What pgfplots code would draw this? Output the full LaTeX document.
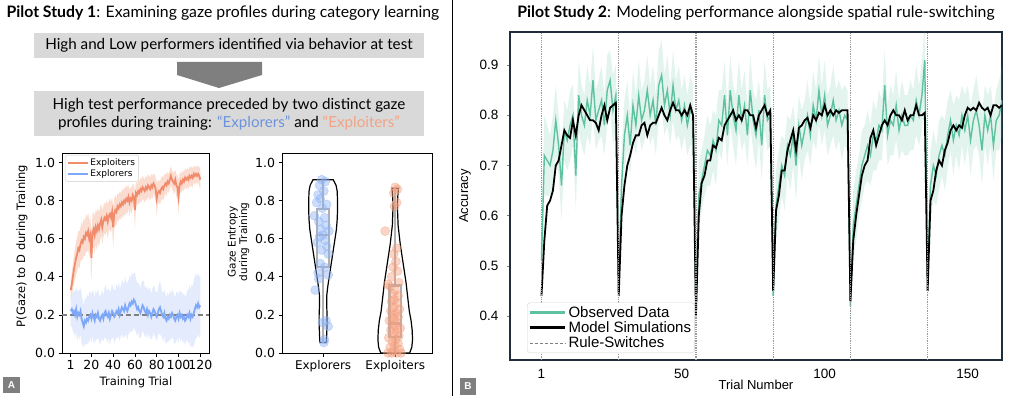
\documentclass[border=0pt]{standalone}
\usepackage{pgfplots}
\pgfplotsset{compat=1.18}
\usepackage{pgfplotstable}
\usepgfplotslibrary{fillbetween,statistics}
\usepackage{fontspec}
\setmainfont{Lato}
\newfontfamily\lato{Lato}
\newfontfamily\dejavu{DejaVu Sans}
\newfontfamily\arial{Liberation Sans}

\definecolor{salmon}{HTML}{F28B6C}
\definecolor{salmonfill}{HTML}{FAD3C4}
\definecolor{expblue}{HTML}{7FA8F8}
\definecolor{expbluefill}{HTML}{DCE6FB}
\definecolor{txtblue}{HTML}{6E93DC}
\definecolor{txtsalmon}{HTML}{F2A384}
\definecolor{boxgray}{HTML}{D9D9D9}
\definecolor{arrowgray}{HTML}{7F7F7F}
\definecolor{obsgreen}{HTML}{5EC29E}
\definecolor{bframe}{HTML}{1F2E3A}
\definecolor{ptblue}{HTML}{8FB3F5}
\definecolor{ptsalmon}{HTML}{F4A080}
\definecolor{bpgray}{HTML}{A6A6A6}

\pgfkeys{/pgf/number format/onedec/.style={/pgf/number format/fixed,/pgf/number format/fixed zerofill,/pgf/number format/precision=1}}

% Panel A: P(gaze) per training trial: t, exploiters mean/err, explorers mean/err
\pgfplotstableread{
t a ae b be
1 0.33 0.05 0.22 0.08
2 0.36 0.06 0.23 0.09
3 0.40 0.07 0.21 0.10
4 0.44 0.08 0.22 0.11
5 0.47 0.08 0.20 0.12
6 0.50 0.09 0.23 0.12
7 0.52 0.09 0.19 0.13
8 0.55 0.09 0.21 0.12
9 0.54 0.10 0.20 0.13
10 0.57 0.09 0.22 0.12
11 0.59 0.10 0.18 0.13
12 0.58 0.09 0.16 0.12
13 0.61 0.10 0.14 0.11
14 0.60 0.09 0.17 0.12
15 0.63 0.10 0.16 0.12
16 0.62 0.09 0.18 0.13
17 0.64 0.10 0.17 0.12
18 0.60 0.09 0.19 0.13
19 0.62 0.10 0.20 0.12
20 0.50 0.12 0.18 0.13
21 0.63 0.10 0.21 0.12
22 0.65 0.09 0.19 0.13
23 0.62 0.10 0.17 0.12
24 0.66 0.09 0.20 0.13
25 0.64 0.10 0.19 0.12
26 0.67 0.09 0.21 0.13
27 0.65 0.09 0.18 0.12
28 0.68 0.09 0.17 0.13
29 0.70 0.08 0.19 0.12
30 0.66 0.09 0.20 0.13
31 0.69 0.08 0.18 0.12
32 0.71 0.08 0.21 0.13
33 0.70 0.08 0.22 0.14
34 0.72 0.08 0.20 0.13
35 0.69 0.09 0.19 0.14
36 0.72 0.08 0.21 0.13
37 0.73 0.08 0.18 0.14
38 0.71 0.08 0.20 0.13
39 0.74 0.08 0.22 0.14
40 0.66 0.11 0.21 0.13
41 0.73 0.08 0.19 0.14
42 0.75 0.08 0.20 0.13
43 0.74 0.07 0.22 0.14
44 0.77 0.07 0.21 0.13
45 0.76 0.07 0.23 0.14
46 0.78 0.07 0.20 0.14
47 0.77 0.07 0.22 0.13
48 0.79 0.07 0.24 0.14
49 0.78 0.07 0.23 0.15
50 0.80 0.07 0.22 0.14
51 0.79 0.07 0.25 0.15
52 0.81 0.07 0.23 0.14
53 0.80 0.07 0.22 0.15
54 0.82 0.06 0.24 0.14
55 0.79 0.07 0.26 0.15
56 0.81 0.06 0.25 0.14
57 0.80 0.07 0.27 0.15
58 0.83 0.06 0.26 0.15
59 0.82 0.06 0.28 0.14
60 0.75 0.10 0.27 0.15
61 0.84 0.06 0.25 0.14
62 0.83 0.06 0.23 0.14
63 0.85 0.06 0.24 0.13
64 0.84 0.06 0.22 0.14
65 0.86 0.06 0.21 0.13
66 0.85 0.06 0.23 0.14
67 0.87 0.06 0.25 0.13
68 0.86 0.06 0.24 0.14
69 0.85 0.06 0.22 0.13
70 0.87 0.06 0.21 0.13
71 0.86 0.06 0.23 0.12
72 0.88 0.06 0.20 0.13
73 0.87 0.06 0.22 0.12
74 0.86 0.06 0.21 0.13
75 0.88 0.06 0.19 0.12
76 0.87 0.06 0.21 0.13
77 0.89 0.05 0.23 0.12
78 0.88 0.06 0.22 0.13
79 0.86 0.06 0.20 0.12
80 0.81 0.09 0.19 0.13
81 0.84 0.06 0.21 0.12
82 0.85 0.06 0.23 0.13
83 0.84 0.06 0.24 0.14
84 0.86 0.06 0.22 0.13
85 0.87 0.06 0.20 0.12
86 0.86 0.06 0.19 0.13
87 0.88 0.06 0.21 0.12
88 0.89 0.05 0.18 0.13
89 0.88 0.06 0.17 0.12
90 0.90 0.05 0.19 0.13
91 0.89 0.05 0.18 0.12
92 0.91 0.05 0.20 0.13
93 0.93 0.05 0.19 0.12
94 0.91 0.05 0.21 0.13
95 0.90 0.05 0.20 0.12
96 0.89 0.06 0.18 0.13
97 0.91 0.05 0.17 0.12
98 0.88 0.06 0.19 0.13
99 0.87 0.06 0.20 0.12
100 0.82 0.09 0.18 0.13
101 0.88 0.06 0.21 0.12
102 0.90 0.05 0.19 0.13
103 0.89 0.05 0.20 0.12
104 0.91 0.05 0.18 0.13
105 0.90 0.05 0.19 0.12
106 0.92 0.05 0.17 0.13
107 0.91 0.05 0.18 0.12
108 0.92 0.05 0.20 0.13
109 0.91 0.05 0.19 0.14
110 0.93 0.05 0.21 0.15
111 0.92 0.05 0.18 0.15
112 0.93 0.05 0.20 0.16
113 0.92 0.05 0.19 0.16
114 0.94 0.04 0.21 0.17
115 0.93 0.05 0.23 0.17
116 0.94 0.04 0.25 0.17
117 0.93 0.05 0.24 0.16
118 0.94 0.04 0.26 0.16
119 0.93 0.05 0.24 0.16
120 0.91 0.05 0.25 0.16
}\tabA

% Panel B: t, model simulation, observed mean, observed err
\pgfplotstableread{
t m o e
1 0.44 0.51 0.07
2 0.55 0.72 0.08
3 0.62 0.71 0.07
4 0.63 0.70 0.06
5 0.65 0.73 0.07
6 0.70 0.79 0.07
7 0.71 0.74 0.06
8 0.74 0.66 0.07
9 0.77 0.77 0.06
10 0.76 0.75 0.06
11 0.755 0.78 0.07
12 0.79 0.80 0.06
13 0.76 0.68 0.07
14 0.80 0.84 0.07
15 0.82 0.80 0.06
16 0.81 0.78 0.06
17 0.80 0.83 0.07
18 0.79 0.80 0.06
19 0.79 0.87 0.07
20 0.785 0.79 0.06
21 0.77 0.81 0.06
22 0.80 0.83 0.07
23 0.82 0.78 0.06
24 0.79 0.85 0.07
25 0.815 0.87 0.06
26 0.82 0.81 0.07
27 0.825 0.84 0.06
28 0.44 0.47 0.07
29 0.60 0.66 0.07
30 0.66 0.76 0.07
31 0.70 0.80 0.07
32 0.72 0.74 0.06
33 0.745 0.82 0.07
34 0.76 0.78 0.06
35 0.76 0.84 0.07
36 0.78 0.79 0.06
37 0.785 0.81 0.06
38 0.76 0.85 0.07
39 0.78 0.80 0.06
40 0.785 0.83 0.07
41 0.785 0.78 0.06
42 0.80 0.86 0.07
43 0.815 0.88 0.07
44 0.80 0.82 0.06
45 0.79 0.85 0.07
46 0.81 0.80 0.06
47 0.825 0.86 0.07
48 0.81 0.81 0.06
49 0.81 0.83 0.07
50 0.80 0.79 0.06
51 0.81 0.82 0.06
52 0.80 0.78 0.06
53 0.82 0.81 0.07
54 0.80 0.80 0.06
55 0.40 0.42 0.06
56 0.60 0.64 0.07
57 0.665 0.67 0.06
58 0.68 0.70 0.06
59 0.71 0.73 0.07
60 0.71 0.72 0.06
61 0.74 0.75 0.06
62 0.735 0.73 0.07
63 0.755 0.79 0.06
64 0.75 0.78 0.07
65 0.78 0.84 0.07
66 0.79 0.76 0.06
67 0.80 0.85 0.07
68 0.81 0.80 0.06
69 0.79 0.77 0.07
70 0.80 0.84 0.07
71 0.79 0.79 0.06
72 0.81 0.82 0.07
73 0.81 0.76 0.06
74 0.80 0.85 0.07
75 0.80 0.79 0.06
76 0.775 0.76 0.07
77 0.80 0.81 0.06
78 0.81 0.74 0.07
79 0.82 0.84 0.07
80 0.80 0.79 0.06
81 0.81 0.80 0.06
82 0.45 0.44 0.06
83 0.61 0.62 0.07
84 0.64 0.66 0.07
85 0.69 0.70 0.06
86 0.69 0.68 0.07
87 0.73 0.74 0.06
88 0.75 0.72 0.07
89 0.77 0.76 0.06
90 0.73 0.70 0.07
91 0.775 0.78 0.06
92 0.78 0.74 0.07
93 0.79 0.77 0.06
94 0.795 0.80 0.07
95 0.775 0.76 0.06
96 0.80 0.82 0.07
97 0.79 0.79 0.06
98 0.805 0.85 0.07
99 0.80 0.80 0.06
100 0.82 0.84 0.07
101 0.80 0.78 0.06
102 0.81 0.80 0.06
103 0.80 0.83 0.07
104 0.81 0.79 0.06
105 0.805 0.81 0.06
106 0.81 0.78 0.07
107 0.81 0.80 0.06
108 0.81 0.79 0.06
109 0.43 0.42 0.06
110 0.55 0.58 0.07
111 0.60 0.62 0.07
112 0.64 0.66 0.06
113 0.68 0.70 0.07
114 0.70 0.72 0.06
115 0.71 0.74 0.07
116 0.755 0.72 0.06
117 0.77 0.76 0.07
118 0.74 0.75 0.06
119 0.76 0.78 0.07
120 0.78 0.77 0.06
121 0.79 0.86 0.07
122 0.78 0.76 0.06
123 0.80 0.79 0.07
124 0.81 0.78 0.06
125 0.80 0.82 0.07
126 0.80 0.77 0.06
127 0.79 0.80 0.07
128 0.81 0.78 0.06
129 0.79 0.78 0.06
130 0.80 0.80 0.07
131 0.80 0.79 0.06
132 0.82 0.83 0.07
133 0.80 0.80 0.06
134 0.80 0.84 0.07
135 0.805 0.91 0.07
136 0.45 0.47 0.06
137 0.63 0.66 0.07
138 0.65 0.70 0.07
139 0.69 0.68 0.06
140 0.71 0.72 0.07
141 0.70 0.74 0.06
142 0.73 0.72 0.07
143 0.745 0.76 0.07
144 0.77 0.79 0.06
145 0.78 0.75 0.07
146 0.77 0.78 0.06
147 0.78 0.76 0.07
148 0.775 0.80 0.06
149 0.80 0.77 0.07
150 0.815 0.80 0.06
151 0.81 0.75 0.07
152 0.815 0.79 0.06
153 0.81 0.81 0.07
154 0.825 0.78 0.06
155 0.815 0.73 0.07
156 0.81 0.80 0.06
157 0.815 0.77 0.07
158 0.80 0.80 0.06
159 0.82 0.74 0.07
160 0.82 0.79 0.06
161 0.815 0.80 0.07
162 0.82 0.83 0.07
}\tabB

\begin{document}
\begin{tikzpicture}

% ---------- Left header ----------
\node[font=\lato\fontsize{15.8bp}{18bp}\selectfont] at (223bp,383bp)
  {\textbf{Pilot Study 1}: Examining gaze profiles during category learning};
\fill[boxgray] (34bp,338bp) rectangle (424bp,363bp);
\node[font=\lato\fontsize{15.2bp}{18bp}\selectfont] at (229bp,350.5bp)
  {High and Low performers identified via behavior at test};
\fill[arrowgray] (177bp,334bp) -- (262bp,334bp) -- (262bp,321bp) -- (219bp,308bp) -- (177bp,321bp) -- cycle;
\fill[boxgray] (34bp,260bp) rectangle (424bp,305bp);
\node[font=\lato\fontsize{15.2bp}{18bp}\selectfont] at (229bp,291bp)
  {High test performance preceded by two distinct gaze};
\node[font=\lato\fontsize{15.2bp}{18bp}\selectfont] at (229bp,273bp)
  {profiles during training: \textcolor{txtblue}{“Explorers”} and \textcolor{txtsalmon}{“Exploiters”}};

% separator
\draw[black, line width=1.5bp] (452.5bp,0bp) -- (452.5bp,396bp);

% right header
\node[font=\lato\fontsize{15.8bp}{18bp}\selectfont] at (756bp,383bp)
  {\textbf{Pilot Study 2}: Modeling performance alongside spatial rule-switching};

% panel letters
\fill[arrowgray] (3bp,3bp) rectangle (20bp,19bp);
\node[white, font=\arial\bfseries\fontsize{10bp}{12bp}\selectfont] at (11.5bp,11bp) {A};
\fill[arrowgray] (460bp,1bp) rectangle (476bp,18bp);
\node[white, font=\arial\bfseries\fontsize{10bp}{12bp}\selectfont] at (468bp,9.5bp) {B};

% ---------- Panel A1 ----------
\begin{axis}[at={(62bp,43bp)}, anchor=south west, scale only axis,
  width=147bp, height=200bp, xmin=-7, xmax=128, ymin=0, ymax=1.05,
  xtick={1,20,40,60,80,100,120}, ytick={0,0.2,0.4,0.6,0.8,1.0},
  yticklabel style={/pgf/number format/onedec},
  /pgf/number format/assume math mode=true,
  tick pos=left, tick align=outside, major tick length=3.5bp,
  tick style={black, line width=0.8bp}, axis line style={line width=0.8bp},
  tick label style={font=\dejavu\fontsize{12.5bp}{15bp}\selectfont},
  xlabel={Training Trial}, ylabel={P(Gaze) to D during Training},
  label style={font=\dejavu\fontsize{11.5bp}{14bp}\selectfont},
  xlabel style={at={(axis description cs:0.503,-0.145)}, anchor=center},
  ylabel style={at={(axis description cs:-0.272,0.535)}, anchor=center},
  legend style={at={(0.02,0.99)}, anchor=north west, draw=gray!40, rounded corners=2bp,
    font=\dejavu\fontsize{9bp}{11bp}\selectfont, inner sep=1.5bp, row sep=-1.5bp},
  legend cell align=left,
  legend image code/.code={\draw[#1] (0bp,0bp) -- (20bp,0bp);}]
\addplot[draw=none, name path=aU, forget plot] table[x=t, y expr=\thisrow{a}+\thisrow{ae}] {\tabA};
\addplot[draw=none, name path=aL, forget plot] table[x=t, y expr=\thisrow{a}-\thisrow{ae}] {\tabA};
\addplot[salmonfill, fill opacity=0.8, forget plot] fill between[of=aU and aL];
\addplot[draw=none, name path=bU, forget plot] table[x=t, y expr=\thisrow{b}+\thisrow{be}] {\tabA};
\addplot[draw=none, name path=bL, forget plot] table[x=t, y expr=\thisrow{b}-\thisrow{be}] {\tabA};
\addplot[expbluefill, fill opacity=0.8, forget plot] fill between[of=bU and bL];
\addplot[gray, line width=1.3bp, dash pattern=on 5bp off 3bp, forget plot] coordinates {(-7,0.2) (128,0.2)};
\addplot[salmon, line width=1.8bp] table[x=t, y=a] {\tabA};
\addlegendentry{Exploiters}
\addplot[expblue, line width=1.8bp] table[x=t, y=b] {\tabA};
\addlegendentry{Explorers}
\end{axis}

% ---------- Panel A2 (violins) ----------
\begin{axis}[at={(282bp,43bp)}, anchor=south west, scale only axis,
  width=150bp, height=200bp, xmin=-0.57, xmax=1.51, ymin=0, ymax=1.05,
  xtick={0,1}, xticklabels={Explorers,Exploiters},
  ytick={0,0.2,0.4,0.6,0.8,1.0},
  yticklabel style={/pgf/number format/onedec},
  /pgf/number format/assume math mode=true,
  tick pos=left, tick align=outside, major tick length=3.5bp,
  tick style={black, line width=0.8bp}, axis line style={line width=0.8bp},
  tick label style={font=\dejavu\fontsize{12.5bp}{15bp}\selectfont},
  xticklabel style={font=\dejavu\fontsize{12bp}{15bp}\selectfont},
  ylabel={Gaze Entropy\\during Training},
  label style={font=\dejavu\fontsize{10.5bp}{11.5bp}\selectfont},
  ylabel style={align=center, at={(axis description cs:-0.29,0.555)}, anchor=center},
  boxplot/draw direction=y]
% violin outlines
\addplot[black, line width=1.2bp] coordinates {
 (0.045,0.055) (0.05,0.10) (0.055,0.15) (0.055,0.20) (0.05,0.25) (0.05,0.30) (0.065,0.35)
 (0.085,0.40) (0.105,0.45) (0.125,0.50) (0.145,0.55) (0.165,0.60) (0.185,0.65) (0.195,0.70)
 (0.20,0.75) (0.20,0.80) (0.195,0.85) (0.18,0.88) (0.14,0.91) (-0.14,0.91) (-0.18,0.88)
 (-0.195,0.85) (-0.20,0.80) (-0.20,0.75) (-0.195,0.70) (-0.185,0.65) (-0.165,0.60)
 (-0.145,0.55) (-0.125,0.50) (-0.105,0.45) (-0.085,0.40) (-0.065,0.35) (-0.05,0.30)
 (-0.05,0.25) (-0.055,0.20) (-0.055,0.15) (-0.05,0.10) (-0.045,0.055) (0.045,0.055)};
\addplot[black, line width=1.2bp] coordinates {
 (1.20,0.00) (1.23,0.03) (1.24,0.07) (1.235,0.12) (1.22,0.17) (1.195,0.22) (1.18,0.27)
 (1.165,0.32) (1.15,0.37) (1.13,0.42) (1.11,0.47) (1.09,0.52) (1.07,0.57) (1.055,0.62)
 (1.04,0.67) (1.035,0.72) (1.03,0.77) (1.035,0.82) (1.045,0.865) (0.955,0.865) (0.965,0.82)
 (0.97,0.77) (0.965,0.72) (0.96,0.67) (0.945,0.62) (0.93,0.57) (0.91,0.52) (0.89,0.47)
 (0.87,0.42) (0.85,0.37) (0.835,0.32) (0.82,0.27) (0.805,0.22) (0.78,0.17) (0.765,0.12)
 (0.76,0.07) (0.77,0.03) (0.80,0.00) (1.20,0.00)};
% individual points
\addplot[only marks, mark=*, mark size=4.5bp, mark options={fill=ptblue, fill opacity=0.45,
  draw=ptblue, draw opacity=0.5, line width=0.5bp}] coordinates {
 (-0.02,0.91) (0.03,0.90) (-0.05,0.88) (0.01,0.85) (-0.07,0.83) (-0.04,0.81) (-0.09,0.79)
 (0.05,0.78) (-0.01,0.76) (-0.12,0.72) (0.02,0.71) (-0.06,0.69) (0.04,0.67) (-0.03,0.65)
 (0.08,0.64) (0.0,0.62) (-0.05,0.61) (0.03,0.59) (-0.08,0.58) (0.05,0.56) (-0.02,0.54)
 (0.07,0.52) (-0.04,0.47) (0.02,0.45) (-0.07,0.42) (0.07,0.41) (-0.06,0.39) (-0.11,0.33)
 (0.04,0.17) (0.07,0.14) (-0.01,0.16) (0.02,0.07) (0.01,0.055)};
\addplot[only marks, mark=*, mark size=4.5bp, mark options={fill=ptsalmon, fill opacity=0.45,
  draw=ptsalmon, draw opacity=0.5, line width=0.5bp}] coordinates {
 (1.0,0.87) (1.03,0.86) (0.98,0.84) (1.02,0.79) (0.99,0.77) (0.86,0.64) (1.02,0.55)
 (0.98,0.52) (1.01,0.48) (0.97,0.45) (1.03,0.43) (0.95,0.40) (0.90,0.36) (1.05,0.37)
 (0.93,0.35) (1.0,0.33) (0.97,0.31) (1.04,0.30) (0.99,0.28) (0.95,0.27) (1.02,0.26)
 (0.98,0.24) (1.06,0.23) (0.94,0.22) (1.01,0.21) (0.97,0.20) (1.04,0.19) (0.99,0.18)
 (0.92,0.17) (1.03,0.16) (0.96,0.15) (1.0,0.14) (1.07,0.13) (0.94,0.12) (1.02,0.11)
 (0.98,0.10) (1.05,0.09) (0.91,0.08) (1.01,0.07) (0.96,0.06) (1.04,0.05) (0.99,0.04)
 (0.93,0.03) (1.06,0.02) (0.97,0.01) (1.02,0.0) (0.95,0.0) (1.08,0.0) (0.90,0.0)};
% box plots (on top)
\addplot[draw=bpgray, draw opacity=0.9, line width=2.3bp, boxplot prepared={draw position=0,
  lower whisker=0.055, lower quartile=0.45, median=0.62, upper quartile=0.755,
  upper whisker=0.91, box extend=0.16, whisker extend=0}] coordinates {};
\addplot[draw=bpgray, draw opacity=0.9, line width=2.3bp, boxplot prepared={draw position=1,
  lower whisker=0.0, lower quartile=0.085, median=0.155, upper quartile=0.355,
  upper whisker=0.865, box extend=0.16, whisker extend=0}] coordinates {};
\end{axis}

% ---------- Panel B ----------
\begin{axis}[at={(510bp,36bp)}, anchor=south west, scale only axis,
  width=492bp, height=328bp, xmin=-10, xmax=162, ymin=0.3124, ymax=0.966,
  xtick={1,50,100,150}, ytick={0.4,0.5,0.6,0.7,0.8,0.9},
  yticklabel style={/pgf/number format/onedec, xshift=-5bp},
  xticklabel style={yshift=-2.5bp},
  /pgf/number format/assume math mode=true,
  tick pos=left, tick align=outside, major tick length=3bp,
  x tick style={draw=none}, y tick style={gray, line width=0.6bp},
  axis line style={draw=bframe, line width=1.8bp},
  tick label style={font=\arial\fontsize{13.5bp}{16bp}\selectfont},
  xlabel={Trial Number}, ylabel={Accuracy},
  label style={font=\arial\fontsize{13bp}{16bp}\selectfont},
  xlabel style={at={(axis description cs:0.5,-0.076)}, anchor=center},
  ylabel style={at={(axis description cs:-0.0915,0.5)}, anchor=center},
  legend style={at={(0.0346,0.0213)}, anchor=south west, draw=gray!35, rounded corners=3bp,
    fill=white, font=\arial\fontsize{15bp}{17bp}\selectfont, inner sep=1.5bp, row sep=-1bp},
  legend cell align=left,
  legend image code/.code={\draw[#1] (0bp,0bp) -- (35bp,0bp);}]
\addlegendimage{obsgreen, line width=2.8bp}
\addlegendentry{Observed Data}
\addlegendimage{black, line width=2.8bp}
\addlegendentry{Model Simulations}
\addlegendimage{gray, line width=0.6bp, densely dashed}
\addlegendentry{Rule-Switches}
\addplot[draw=none, name path=oU, forget plot] table[x=t, y expr=\thisrow{o}+\thisrow{e}] {\tabB};
\addplot[draw=none, name path=oL, forget plot] table[x=t, y expr=\thisrow{o}-\thisrow{e}] {\tabB};
\addplot[obsgreen, fill opacity=0.18, forget plot] fill between[of=oU and oL];
\addplot[obsgreen, line width=1.4bp, forget plot] table[x=t, y=o] {\tabB};
\addplot[black, line width=1.8bp, forget plot] table[x=t, y=m] {\tabB};
\addplot[gray!80, densely dotted, line width=1.3bp, forget plot] coordinates {(1,0.3124) (1,0.966)};
\addplot[gray!80, densely dotted, line width=1.3bp, forget plot] coordinates {(28,0.3124) (28,0.966)};
\addplot[gray!80, densely dotted, line width=1.3bp, forget plot] coordinates {(55,0.3124) (55,0.966)};
\addplot[gray!80, densely dotted, line width=1.3bp, forget plot] coordinates {(82,0.3124) (82,0.966)};
\addplot[gray!80, densely dotted, line width=1.3bp, forget plot] coordinates {(109,0.3124) (109,0.966)};
\addplot[gray!80, densely dotted, line width=1.3bp, forget plot] coordinates {(136,0.3124) (136,0.966)};
\end{axis}

\pgfresetboundingbox
\path[use as bounding box] (0bp,0bp) rectangle (1024bp,396bp);
\end{tikzpicture}
\end{document}
